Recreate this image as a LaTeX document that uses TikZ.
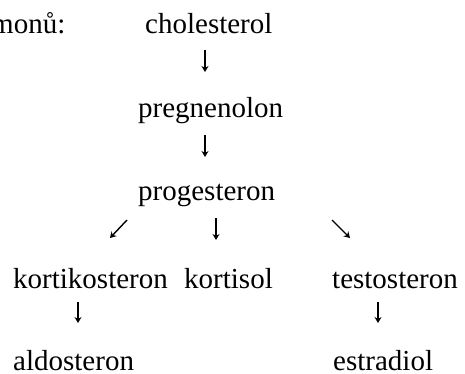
\documentclass[tikz,border=0pt]{standalone}
\usepackage{fontspec}
\setmainfont{Liberation Serif}
\usepackage{tikz}
\usetikzlibrary{arrows.meta}

\begin{document}
\begin{tikzpicture}[x=1pt,y=1pt,
  hormon/.style={anchor=base west, inner sep=0pt, font=\fontsize{29}{35}\selectfont},
  arr/.style={-{Stealth[length=6pt,width=7pt]}, line width=1.4pt, color=black}]

  \useasboundingbox (0,0) rectangle (465,-374);
  \clip (0,0) rectangle (465,-374);

  %% Top line
  \node[hormon] (lead) at (-9,-34) {monů:};
  \node[hormon] (chol) at (145,-34) {cholesterol};

  %% Main chain
  \node[hormon] (preg) at (138,-118) {pregnenolon};
  \node[hormon] (prog) at (138,-200) {progesteron};

  %% Branches
  \node[hormon] (kortiko) at (13,-288) {kortikosteron};
  \node[hormon] (kortisol) at (184,-288) {kortisol};
  \node[hormon] (testo) at (332,-288) {testosteron};

  %% Products
  \node[hormon] (aldo) at (13,-370) {aldosteron};
  \node[hormon] (estra) at (333,-370) {estradiol};

  %% Arrows
  \draw[arr] ([xshift=60pt,yshift=-16pt]chol.base west) -- ([xshift=67pt,yshift=46pt]preg.base west);
  \draw[arr] ([xshift=67pt,yshift=-17pt]preg.base west) -- ([xshift=67pt,yshift=43pt]prog.base west);
  \draw[arr] ([xshift=-11pt,yshift=-20pt]prog.base west) -- ([xshift=97pt,yshift=50pt]kortiko.base west);
  \draw[arr] ([xshift=78pt,yshift=-18pt]prog.base west) -- ([xshift=32pt,yshift=48pt]kortisol.base west);
  \draw[arr] ([xshift=194pt,yshift=-20pt]prog.base west) -- ([xshift=18pt,yshift=50pt]testo.base west);
  \draw[arr] ([xshift=65pt,yshift=-14pt]kortiko.base west) -- ([xshift=65pt,yshift=47pt]aldo.base west);
  \draw[arr] ([xshift=46pt,yshift=-14pt]testo.base west) -- ([xshift=45pt,yshift=47pt]estra.base west);
\end{tikzpicture}
\end{document}
